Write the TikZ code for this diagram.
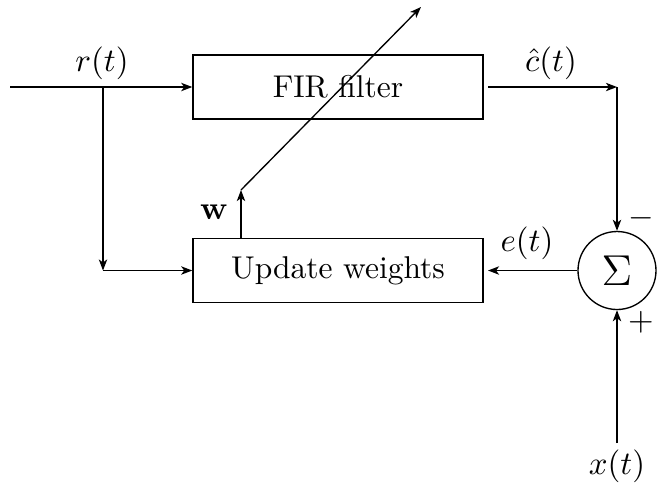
\documentclass[tikz,border=0pt]{standalone}
\usetikzlibrary{arrows.meta}
\begin{document}
\begin{tikzpicture}[x=0.33333pt,y=-0.33333pt,
  every node/.style={font=\fontsize{10.5}{12.6}\selectfont},
  line width=0.45pt,
  blockbox/.style={draw, rectangle, minimum width=96.7pt, minimum height=21.3pt, inner sep=0pt},
  sumnode/.style={draw, circle, minimum size=26pt, inner sep=0pt},
  conn/.style={-{Stealth[length=3.7pt,width=2.8pt,inset=1pt]}}]
\useasboundingbox (0,0) rectangle (667,488);
\node[blockbox] (fir) at (338,87) {FIR filter};
\node[blockbox] (upd) at (338,270.5) {Update weights};
\node[sumnode] (sum) at (617,270.5) {\fontsize{14.4}{16}\selectfont$\Sigma$};
\coordinate (in) at (10,87);
\coordinate (br) at (103,87);
\coordinate (brb) at (103,270.5);
\coordinate (fo) at (488,87);
\coordinate (ue) at (488,270.5);
\coordinate (oc) at (617,87);
\coordinate (xin) at (617,443);
\coordinate (wb) at (241,190);
\coordinate (wt) at (421,7);
\draw[conn] (in) -- (fir.west);
\draw[conn] (br) -- (brb);
\draw[conn] (brb) -- (upd.west);
\draw[conn] (fo) -- (oc);
\draw[conn] (oc) -- (sum.north);
\draw[conn] (sum.west) -- (ue);
\draw[conn] (xin) -- (sum.south);
\draw[conn] (upd.north -| wb) -- (wb);
\draw[conn] (wb) -- (wt);
\node (lr) at (102,63) {$r(t)$};
\node (lc) at (551,63) {$\hat{c}(t)$};
\node (le) at (527,243) {$e(t)$};
\node (lx) at (617,466) {$x(t)$};
\node (lm) at (641,218) {$-$};
\node (lp) at (641,322) {$+$};
\node (lw) at (214,212) {$\mathbf{w}$};
\end{tikzpicture}
\end{document}
